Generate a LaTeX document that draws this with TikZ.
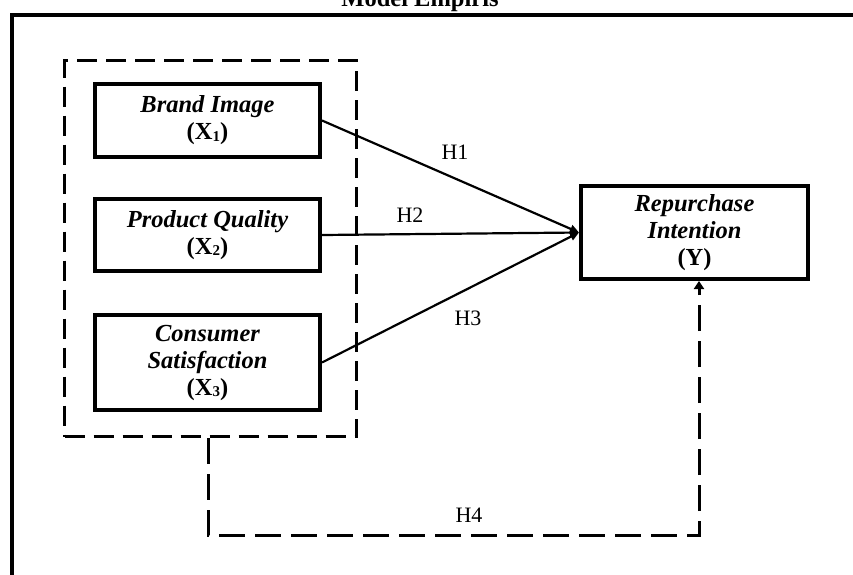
\documentclass[tikz,border=0pt]{standalone}
\usepackage{fontspec}
\setmainfont{Liberation Serif}
\usetikzlibrary{arrows.meta}
\newcommand\subdig[1]{\raisebox{-1.5pt}{\fontsize{15}{15}\selectfont #1}}
\begin{document}
\begin{tikzpicture}[x=1pt,y=-1pt,
  varbox/.style={draw,line width=4pt,inner sep=0pt,align=center,font=\bfseries\itshape\fontsize{24.5}{27}\selectfont},
  hlabel/.style={font=\fontsize{22}{24}\selectfont,inner sep=0pt},
  link/.style={line width=2.2pt,-{Triangle[length=9pt,width=8pt]}},
  grpline/.style={line width=3pt,dash pattern=on 20pt off 9pt},
  h4line/.style={line width=3pt,dash pattern=on 26pt off 10pt,-{Triangle[length=8pt,width=10pt]}}]
\clip (0,0) rectangle (853,574);
\node[anchor=base,font=\bfseries\fontsize{24.5}{27}\selectfont,inner sep=0pt] (title) at (420,6) {Model Empiris};
\coordinate (fl) at (12,576);
\coordinate (ftl) at (12,15);
\coordinate (fr) at (855,15);
\draw[line width=4.5pt] (fl) -- (ftl) -- (fr);
\node[draw,grpline,minimum width=292pt,minimum height=376pt,inner sep=0pt] (grp) at (210.5,248.5) {};
\node[varbox,minimum width=225pt,minimum height=73pt] (bi) at (207.5,120.5) {Brand Image\\{\upshape(X\subdig{1})}};
\node[varbox,minimum width=225pt,minimum height=72pt] (pq) at (207.5,235) {Product Quality\\{\upshape(X\subdig{2})}};
\node[varbox,minimum width=225pt,minimum height=95pt] (cs) at (207.5,362.5) {Consumer\\Satisfaction\\{\upshape(X\subdig{3})}};
\node[varbox,minimum width=227pt,minimum height=93pt] (yy) at (694.5,232.5) {Repurchase\\Intention\\{\upshape(Y)}};
\draw[link] (bi.east) -- (yy.west);
\draw[link] (pq.east) -- (yy.west);
\draw[link] (cs.east) -- (yy.west);
\coordinate (h4a) at (208,535);
\coordinate (h4b) at (699,535);
\draw[h4line] (grp.south -| h4a) -- (h4a) -- (h4b) -- (yy.south -| h4b);
\node[hlabel] (l1) at (455,152) {H1};
\node[hlabel] (l2) at (410,215) {H2};
\node[hlabel] (l3) at (468,318) {H3};
\node[hlabel] (l4) at (469,515) {H4};
\end{tikzpicture}
\end{document}
